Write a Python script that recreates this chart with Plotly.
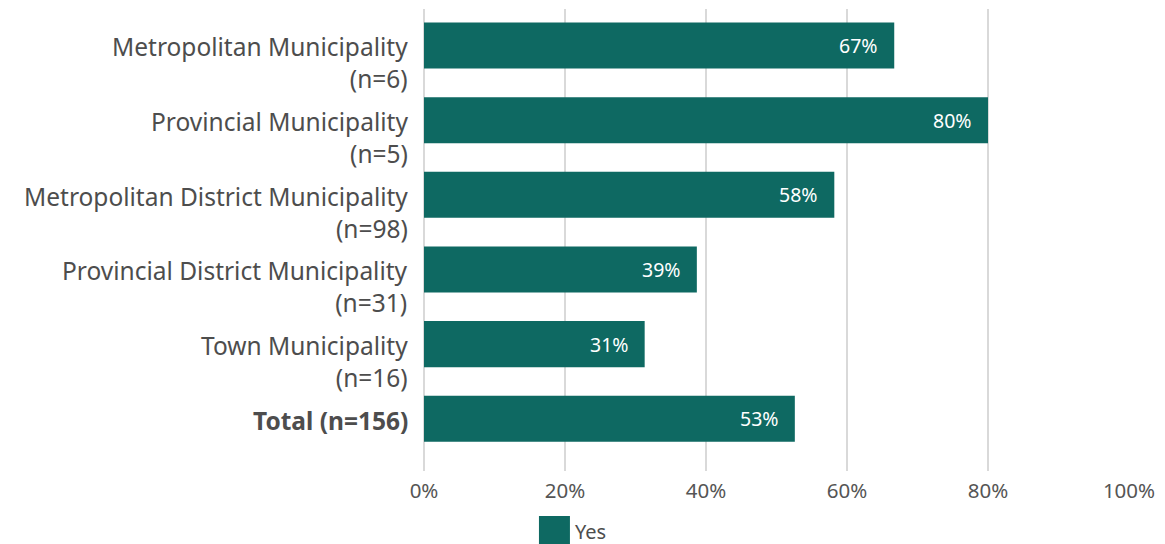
import plotly.graph_objects as go

# Share of municipalities answering "Yes", by municipality type
categories = [
    "Metropolitan Municipality<br>(n=6)",
    "Provincial Municipality<br>(n=5)",
    "Metropolitan District Municipality<br>(n=98)",
    "Provincial District Municipality<br>(n=31)",
    "Town Municipality<br>(n=16)",
    "<b>Total (n=156)</b>",
]
yes_share = [66.7, 80.0, 58.2, 38.7, 31.3, 52.6]
value_labels = ["67%", "80%", "58%", "39%", "31%", "53%"]
x_ticks = [0, 20, 40, 60, 80, 100]
x_tick_labels = ["0%", "20%", "40%", "60%", "80%", "100%"]
series_name = "Yes"

BAR = "#0e6962"
TEXT = "#4d4d4d"
GRID = "#d9d9d9"
FONT = "Noto Sans, sans-serif"
CAT_SIZE = 24.5

positions = list(range(len(categories)))

fig = go.Figure()
fig.add_trace(go.Bar(
    y=positions,
    x=yes_share,
    orientation="h",
    width=0.617,
    marker=dict(color=BAR, line=dict(width=0)),
    name=series_name,
    showlegend=False,
    hoverinfo="skip",
))

# value labels inside the bar ends
for pos, val, lab in zip(positions, yes_share, value_labels):
    fig.add_annotation(
        x=val, y=pos, xref="x", yref="y",
        text=lab, showarrow=False,
        xanchor="right", yanchor="middle", xshift=-14,
        font=dict(family=FONT, size=19.5, color="#ffffff"),
    )

# category labels: first line level with the bar, sample size below
for pos, cat in zip(positions, categories):
    fig.add_annotation(
        x=0, y=pos, xref="paper", yref="y",
        text=cat, showarrow=False, align="right",
        xanchor="right", yanchor="top",
        xshift=-14, yshift=CAT_SIZE * 0.70,
        font=dict(family=FONT, size=CAT_SIZE, color=TEXT),
    )

# legend entry: swatch + label
fig.add_shape(
    type="rect", xref="paper", yref="paper",
    x0=(539 - 424) / 705.3, x1=(570 - 424) / 705.3,
    y0=-(544 - 471) / 462, y1=-(516 - 471) / 462,
    fillcolor=BAR, line=dict(width=0),
)
fig.add_annotation(
    xref="paper", yref="paper",
    x=(573 - 424) / 705.3, y=-(531 - 471) / 462,
    text=series_name, showarrow=False,
    xanchor="left", yanchor="middle",
    font=dict(family=FONT, size=20, color=TEXT),
)

fig.update_layout(
    width=1165, height=544,
    margin=dict(l=424, r=36, t=9, b=73),
    paper_bgcolor="#ffffff",
    plot_bgcolor="#ffffff",
    font=dict(family=FONT, color=TEXT),
    showlegend=False,
)
fig.update_xaxes(
    range=[0, 100],
    tickvals=x_ticks, ticktext=x_tick_labels,
    showgrid=True, gridcolor=GRID, gridwidth=2,
    zeroline=True, zerolinecolor=GRID, zerolinewidth=2,
    showline=False, ticks="",
    tickfont=dict(family=FONT, size=20.5, color="#555555"),
    ticklabelstandoff=5,
    fixedrange=True,
)
fig.update_yaxes(
    range=[5.70, -0.49],
    tickvals=positions, showticklabels=False,
    showgrid=False, zeroline=False, showline=False, ticks="",
    fixedrange=True,
)

fig.write_html("out.html")
